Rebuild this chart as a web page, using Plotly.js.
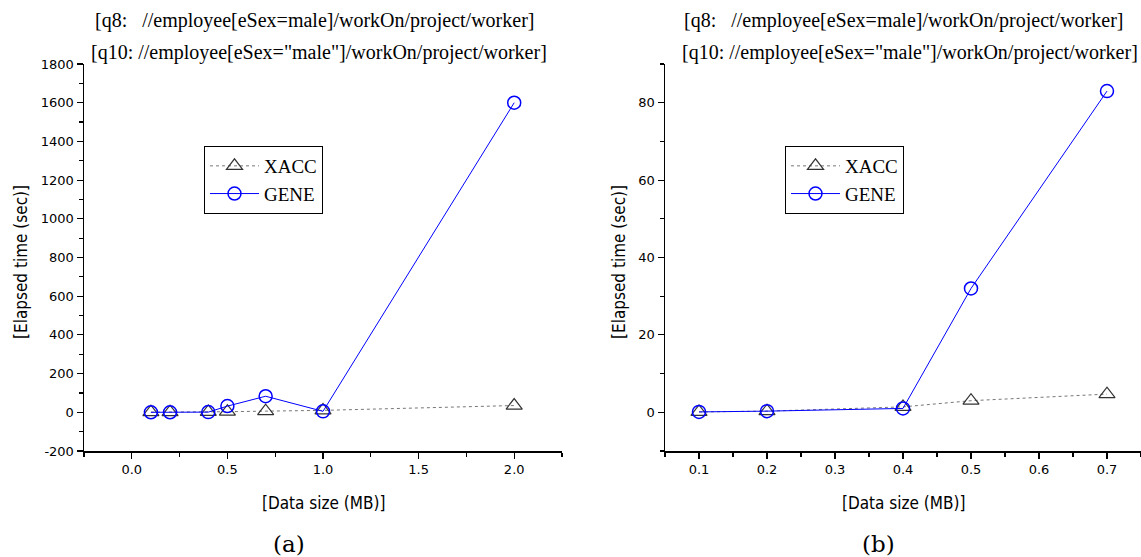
<!DOCTYPE html>
<html>
<head>
<meta charset="utf-8">
<script src="https://cdn.plot.ly/plotly-3.0.1.min.js"></script>
<style>html,body{margin:0;padding:0;background:#fff;}#chart{width:1141px;height:557px;}</style>
</head>
<body>
<div id="chart"></div>
<script>
// Panel (a)
const sizesA = [0.1, 0.2, 0.4, 0.5, 0.7, 1.0, 2.0];
const xaccA = [1, 1, 2, 3, 6, 10, 35];
const geneA = [0, 0, 1, 32, 83, 5, 1600];
// Panel (b)
const sizesB = [0.1, 0.2, 0.4, 0.5, 0.7];
const xaccB = [0.1, 0.3, 1.4, 3.0, 4.7];
const geneB = [0.1, 0.3, 1.0, 32, 83];

// Tick values / labels
const yTicksA = [-200, 0, 200, 400, 600, 800, 1000, 1200, 1400, 1600, 1800];
const yTickLabelsA = ["-200", "0", "200", "400", "600", "800", "1000", "1200", "1400", "1600", "1800"];
const xTicksA = [0.0, 0.5, 1.0, 1.5, 2.0];
const xTickLabelsA = ["0.0", "0.5", "1.0", "1.5", "2.0"];
const yTicksB = [0, 20, 40, 60, 80];
const yTickLabelsB = ["0", "20", "40", "60", "80"];
const xTicksB = [0.1, 0.2, 0.3, 0.4, 0.5, 0.6, 0.7];
const xTickLabelsB = ["0.1", "0.2", "0.3", "0.4", "0.5", "0.6", "0.7"];

const seriesNames = ["XACC", "GENE"];
const titleLine1 = "[q8:&nbsp;&nbsp; //employee[eSex=male]/workOn/project/worker]";
const titleLine2 = "[q10: //employee[eSex=\"male\"]/workOn/project/worker]";
const xTitle = "[Data size (MB)]";
const yTitle = "[Elapsed time (sec)]";
const panelLabels = ["(a)", "(b)"];

const serif = "Liberation Serif, Times New Roman, serif";
const sans = "DejaVu Sans, sans-serif";
const sansCond = "DejaVu Sans Condensed, DejaVu Sans, sans-serif";

function xacc(x, y, xa, ya, legend) {
  return {x: x, y: y, xaxis: xa, yaxis: ya, legend: legend, name: seriesNames[0], type: "scatter",
    mode: "lines+markers", cliponaxis: false,
    line: {color: "#777", width: 1, dash: "dot"},
    marker: {symbol: "triangle-up-open", size: 14, color: "#333", line: {width: 1.2, color: "#333"}}};
}
function gene(x, y, xa, ya, legend) {
  return {x: x, y: y, xaxis: xa, yaxis: ya, legend: legend, name: seriesNames[1], type: "scatter",
    mode: "lines+markers", cliponaxis: false,
    line: {color: "#0000ff", width: 1},
    marker: {symbol: "circle-open", size: 13, color: "#0000ff", line: {width: 1.5, color: "#0000ff"}}};
}

const data = [
  xacc(sizesA, xaccA, "x", "y", "legend"),
  gene(sizesA, geneA, "x", "y", "legend"),
  xacc(sizesB, xaccB, "x2", "y2", "legend2"),
  gene(sizesB, geneB, "x2", "y2", "legend2")
];

const W = 1141, H = 557;
const yDom = [(H - 451) / H, (H - 64) / H];
const axBase = {
  showline: true, linecolor: "#000", linewidth: 1.5, ticks: "outside", ticklen: 6, tickwidth: 1.2,
  tickcolor: "#000", showgrid: false, zeroline: false, tickfont: {family: sans, size: 13, color: "#000"},
  mirror: false, tickmode: "array"
};
const minorBase = {ticks: "outside", ticklen: 4, tickcolor: "#000", showgrid: false};

const legBase = {xanchor: "left", yanchor: "top", bgcolor: "#fff",
    bordercolor: "#000", borderwidth: 1, font: {family: serif, size: 19, color: "#000"},
    tracegroupgap: 0, itemwidth: 49};

const layout = {
  width: W, height: H, margin: {l: 0, r: 0, t: 0, b: 0},
  paper_bgcolor: "#fff", plot_bgcolor: "#fff", showlegend: true,
  xaxis: Object.assign({}, axBase, {domain: [84 / W, 562 / W], range: [-0.25, 2.25],
    tickvals: xTicksA, ticktext: xTickLabelsA, anchor: "y",
    minor: Object.assign({dtick: 0.25, tick0: 0}, minorBase)}),
  yaxis: Object.assign({}, axBase, {domain: yDom, range: [-200, 1800],
    tickvals: yTicksA, ticktext: yTickLabelsA, anchor: "x",
    minor: Object.assign({dtick: 100, tick0: 0}, minorBase)}),
  xaxis2: Object.assign({}, axBase, {domain: [665 / W, 1], range: [0.05, 0.75],
    tickvals: xTicksB, ticktext: xTickLabelsB, anchor: "y2",
    minor: Object.assign({dtick: 0.05, tick0: 0}, minorBase)}),
  yaxis2: Object.assign({}, axBase, {domain: yDom, range: [-10, 90],
    tickvals: yTicksB, ticktext: yTickLabelsB, anchor: "x2",
    minor: Object.assign({dtick: 10, tick0: 0}, minorBase)}),
  legend: Object.assign({x: 204 / W, y: (H - 146) / H}, legBase),
  legend2: Object.assign({x: 785 / W, y: (H - 146) / H}, legBase),
  annotations: [
    {text: titleLine1, x: 93 / W, y: (H - 20) / H},
    {text: titleLine2, x: 89 / W, y: (H - 53) / H},
    {text: titleLine1, x: 682 / W, y: (H - 20) / H},
    {text: titleLine2, x: 680 / W, y: (H - 53) / H},
  ].map(a => Object.assign(a, {xref: "paper", yref: "paper", showarrow: false, xanchor: "left", yanchor: "middle",
      font: {family: serif, size: 20, color: "#000"}}))
  .concat([
    {text: xTitle, x: 323 / W, y: (H - 503) / H},
    {text: xTitle, x: 903 / W, y: (H - 503) / H},
    {text: yTitle, x: 21 / W, y: (H - 262) / H, textangle: -90},
    {text: yTitle, x: 619 / W, y: (H - 262) / H, textangle: -90},
  ].map(a => Object.assign(a, {xref: "paper", yref: "paper", showarrow: false, xanchor: "center", yanchor: "middle",
      font: {family: sansCond, size: 17, color: "#000"}})))
  .concat([
    {text: panelLabels[0], x: 289 / W, y: (H - 544) / H},
    {text: panelLabels[1], x: 878 / W, y: (H - 544) / H},
  ].map(a => Object.assign(a, {xref: "paper", yref: "paper", showarrow: false, xanchor: "center", yanchor: "middle",
      font: {family: "DejaVu Serif, serif", size: 23, color: "#000"}})))
};

Plotly.newPlot("chart", data, layout, {displayModeBar: false, staticPlot: true});
</script>
</body>
</html>
